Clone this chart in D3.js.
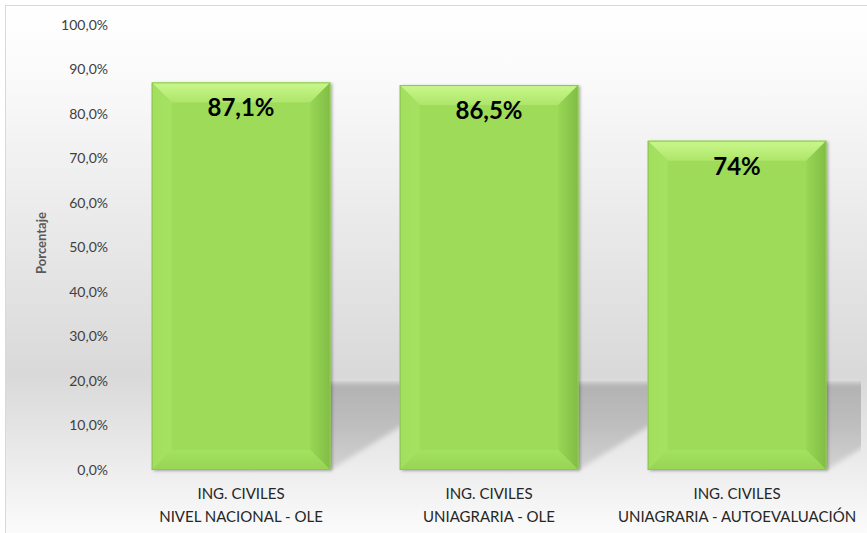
<!DOCTYPE html>
<html>
<head>
<meta charset="utf-8">
<script src="https://cdn.jsdelivr.net/npm/d3@7"></script>
<style>
  html, body { margin: 0; padding: 0; background: #ffffff; }
  svg { display: block; }
  text { font-family: Lato, "Open Sans", sans-serif; }
</style>
</head>
<body>
<svg id="chart" width="867" height="533"></svg>
<script>
// Chart data
const categoryLine1 = ["ING. CIVILES", "ING. CIVILES", "ING. CIVILES"];
const categoryLine2 = ["NIVEL NACIONAL - OLE", "UNIAGRARIA - OLE", "UNIAGRARIA - AUTOEVALUACIÓN"];
const values = [0.871, 0.865, 0.74];
const labelDecimals = [1, 1, 0];
const yTicks = [0, 0.1, 0.2, 0.3, 0.4, 0.5, 0.6, 0.7, 0.8, 0.9, 1.0];
const yTitle = "Porcentaje";

const W = 867, H = 533;
const svg = d3.select("#chart");
const defs = svg.append("defs");

const locale = d3.formatLocale({ decimal: ",", thousands: ".", grouping: [3], currency: ["", " €"], percent: "%" });
const tickFmt = locale.format(".1%");
const valueFmt = d => locale.format("." + d + "%");

const plot = { left: 117, right: 861, top: 25, bottom: 470 };
const y = d3.scaleLinear().domain([0, 1]).range([plot.bottom, plot.top]);
const x = d3.scaleBand().domain(d3.range(values.length))
  .range([plot.left, plot.right]).paddingInner(0.28).paddingOuter(0.14);

// Chart area background
const bg = defs.append("linearGradient").attr("id", "bg")
  .attr("gradientUnits", "userSpaceOnUse").attr("x1", 0).attr("y1", 5).attr("x2", 0).attr("y2", H);
[[0, "#ffffff"], [0.12, "#fbfbfb"], [0.7, "#d9d9d9"], [0.87, "#ececec"], [1, "#fbfbfb"]]
  .forEach(([o, c]) => bg.append("stop").attr("offset", o).attr("stop-color", c));
svg.append("rect").attr("x", 5.5).attr("y", 5.5).attr("width", W + 10).attr("height", H + 10)
  .attr("fill", "url(#bg)").attr("stroke", "#d9d9d9").attr("stroke-width", 1);

// Perspective shadow cast by each bar onto the back floor
const shTop = 383;
const shGrad = defs.append("linearGradient").attr("id", "shadowGrad")
  .attr("gradientUnits", "userSpaceOnUse").attr("x1", 0).attr("y1", shTop).attr("x2", 0).attr("y2", plot.bottom);
[[0, "#b2b2b2"], [0.45, "#bdbdbd"], [1, "#d2d2d2"]]
  .forEach(([o, c]) => shGrad.append("stop").attr("offset", o).attr("stop-color", c));
defs.append("clipPath").attr("id", "plotClip").append("rect")
  .attr("x", plot.left).attr("y", shTop - 2).attr("width", plot.right - plot.left).attr("height", plot.bottom - shTop + 2);
const blur = defs.append("filter").attr("id", "soft").attr("x", "-20%").attr("y", "-20%").attr("width", "140%").attr("height", "140%");
blur.append("feGaussianBlur").attr("stdDeviation", 2.5);

const skew = 140;
svg.append("g").attr("clip-path", "url(#plotClip)")
  .append("g").attr("filter", "url(#soft)")
  .selectAll("path").data(values).join("path")
  .attr("fill", "url(#shadowGrad)")
  .attr("d", (v, i) => {
    const x0 = x(i), x1 = x(i) + x.bandwidth();
    return `M${x0},${plot.bottom}L${x0 + skew},${shTop}L${x1 + skew},${shTop}L${x1},${plot.bottom}Z`;
  });

// Y axis tick labels
const yAxis = d3.axisLeft(y).tickValues(yTicks).tickFormat(tickFmt).tickSize(0).tickPadding(0);
const ya = svg.append("g").attr("transform", `translate(108,0)`).call(yAxis);
ya.select(".domain").remove();
ya.selectAll("text").attr("fill", "#404040").style("font-size", "14px")
  .style("font-family", "Lato, 'Open Sans', sans-serif");

svg.append("text").attr("transform", `translate(46,243) rotate(-90)`)
  .attr("text-anchor", "middle").attr("fill", "#595959")
  .style("font-size", "13px").style("font-weight", "bold").text(yTitle);

// Bevelled bars
const topGrad = defs.append("linearGradient").attr("id", "bevelTop").attr("x1", 0).attr("y1", 0).attr("x2", 0).attr("y2", 1);
[[0, "#c9f88c"], [1, "#aee56a"]].forEach(([o, c]) => topGrad.append("stop").attr("offset", o).attr("stop-color", c));
const rightGrad = defs.append("linearGradient").attr("id", "bevelRight").attr("x1", 0).attr("y1", 0).attr("x2", 1).attr("y2", 0);
[[0, "#98d656"], [1, "#80bd44"]].forEach(([o, c]) => rightGrad.append("stop").attr("offset", o).attr("stop-color", c));
const leftGrad = defs.append("linearGradient").attr("id", "bevelLeft").attr("x1", 0).attr("y1", 0).attr("x2", 1).attr("y2", 0);
[[0, "#a2df5f"], [1, "#a6e262"]].forEach(([o, c]) => leftGrad.append("stop").attr("offset", o).attr("stop-color", c));
const botGrad = defs.append("linearGradient").attr("id", "bevelBottom").attr("x1", 0).attr("y1", 0).attr("x2", 0).attr("y2", 1);
[[0, "#a3e160"], [1, "#97d455"]].forEach(([o, c]) => botGrad.append("stop").attr("offset", o).attr("stop-color", c));

const drop = defs.append("filter").attr("id", "drop").attr("x", "-10%").attr("y", "-10%").attr("width", "130%").attr("height", "130%");
drop.append("feDropShadow").attr("dx", 2).attr("dy", 1).attr("stdDeviation", 1.5)
  .attr("flood-color", "#000").attr("flood-opacity", 0.3);

const bev = 20;
const bars = svg.append("g").selectAll("g").data(values).join("g");
bars.each(function (v, i) {
  const g = d3.select(this);
  const x0 = x(i), x1 = x(i) + x.bandwidth(), y0 = y(v), y1 = y(0);
  g.append("rect").attr("x", x0).attr("y", y0).attr("width", x1 - x0).attr("height", y1 - y0)
    .attr("fill", "#9ddb59").attr("filter", "url(#drop)");
  const b = Math.min(bev, (y1 - y0) / 2);
  const poly = (pts, fill) => g.append("path").attr("d", "M" + pts.map(p => p.join(",")).join("L") + "Z").attr("fill", fill);
  poly([[x0, y0], [x1, y0], [x1 - b, y0 + b], [x0 + b, y0 + b]], "url(#bevelTop)");
  poly([[x0, y0], [x0 + b, y0 + b], [x0 + b, y1 - b], [x0, y1]], "url(#bevelLeft)");
  poly([[x1, y0], [x1, y1], [x1 - b, y1 - b], [x1 - b, y0 + b]], "url(#bevelRight)");
  poly([[x0, y1], [x0 + b, y1 - b], [x1 - b, y1 - b], [x1, y1]], "url(#bevelBottom)");
  g.append("rect").attr("x", x0 + 0.5).attr("y", y0 + 0.5).attr("width", x1 - x0 - 1).attr("height", y1 - y0 - 1)
    .attr("fill", "none").attr("stroke", "#8cc650").attr("stroke-width", 1);
});

// Value labels
svg.append("g").selectAll("text").data(values).join("text")
  .attr("x", (v, i) => x(i) + x.bandwidth() / 2)
  .attr("y", v => y(v) + 34)
  .attr("text-anchor", "middle").attr("fill", "#000")
  .style("font-size", "24px").style("font-weight", "bold")
  .text((v, i) => valueFmt(labelDecimals[i])(v));

// Category labels
const cat = svg.append("g").selectAll("text").data(values).join("text")
  .attr("text-anchor", "middle").attr("fill", "#262626").style("font-size", "15px");
cat.append("tspan").attr("x", (v, i) => x(i) + x.bandwidth() / 2).attr("y", 499).text((v, i) => categoryLine1[i]);
cat.append("tspan").attr("x", (v, i) => x(i) + x.bandwidth() / 2).attr("y", 522).text((v, i) => categoryLine2[i]);
</script>
</body>
</html>
